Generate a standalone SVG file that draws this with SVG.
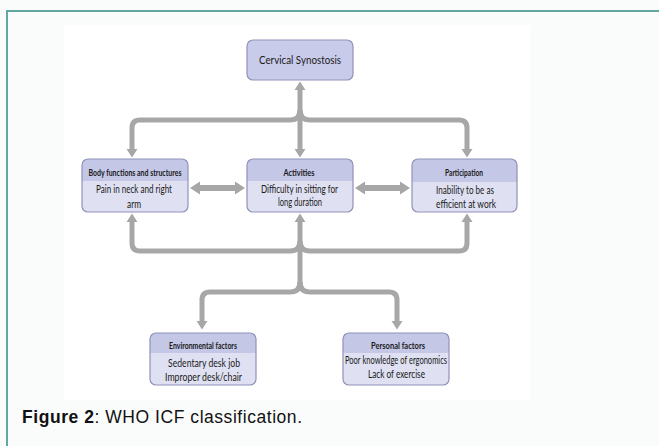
<svg xmlns="http://www.w3.org/2000/svg" width="659" height="446" viewBox="0 0 659 446">
<defs>
<style>
.bg{fill:#fafbfb}
.frame{stroke:#62a8a1;stroke-width:2;fill:none}
.conn{stroke:#a7a7a7;stroke-width:5;fill:none}
.conn2{stroke:#a7a7a7;stroke-width:6;fill:none}
.box{fill:#dfe1f2}
.hdr{fill:#c4c7e6}
.outline{fill:none;stroke:#8f92b9;stroke-width:1.2}
.t{font-family:Lato,"Open Sans",sans-serif;font-size:11.5px;fill:#1a1a1a;text-anchor:middle}
.h{font-family:Lato,"Open Sans",sans-serif;font-size:9px;font-weight:bold;fill:#1a1a1a;text-anchor:middle}
.cap{font-family:"Liberation Sans",Arial,sans-serif;font-size:17.5px;fill:#111}
</style>
<marker id="ah" markerUnits="userSpaceOnUse" markerWidth="10" markerHeight="12" viewBox="0 -6 10 12" refX="0" refY="0" orient="auto-start-reverse">
<path d="M0,-5.5 L8.5,0 L0,5.5 Z" fill="#a7a7a7"/>
</marker>
<marker id="ah2" markerUnits="userSpaceOnUse" markerWidth="12" markerHeight="14" viewBox="0 -7 12 14" refX="0" refY="0" orient="auto-start-reverse">
<path d="M0,-6.5 L10,0 L0,6.5 Z" fill="#a7a7a7"/>
</marker>
</defs>
<rect class="bg" x="0" y="0" width="659" height="446"/>
<rect x="64" y="25" width="466" height="375" fill="#ffffff"/>
<path class="frame" d="M7,446 V11 H659"/>

<g id="connectors">
<path class="conn" d="M300,90 V149" marker-start="url(#ah)" marker-end="url(#ah)"/>
<path class="conn" d="M300,110 Q300,120 290,120 H140 Q132,120 132,128 V149" marker-end="url(#ah)"/>
<path class="conn" d="M300,110 Q300,120 310,120 H459 Q467,120 467,128 V149" marker-end="url(#ah)"/>
<path class="conn2" d="M200,188 H235" marker-start="url(#ah2)" marker-end="url(#ah2)"/>
<path class="conn2" d="M365,188 H400" marker-start="url(#ah2)" marker-end="url(#ah2)"/>
<path class="conn" d="M300,285 V222" marker-end="url(#ah)"/>
<path class="conn" d="M300,241 Q300,251 290,251 H140 Q132,251 132,243 V222" marker-end="url(#ah)"/>
<path class="conn" d="M300,241 Q300,251 310,251 H459 Q467,251 467,243 V222" marker-end="url(#ah)"/>
<path class="conn" d="M300,282 Q300,292 290,292 H210 Q202,292 202,300 V321" marker-end="url(#ah)"/>
<path class="conn" d="M300,282 Q300,292 310,292 H389 Q397,292 397,300 V321" marker-end="url(#ah)"/>
</g>

<g id="cervical">
<rect x="247" y="40" width="106" height="40" rx="6" fill="#c9cbea" stroke="#8f92b9" stroke-width="1.2"/>
<text class="t" x="300" y="64" font-size="12.5" textLength="82" lengthAdjust="spacingAndGlyphs">Cervical Synostosis</text>
</g>

<g id="body">
<rect class="box" x="82" y="159" width="106" height="53" rx="6"/>
<path class="hdr" d="M82,181 V165 Q82,159 88,159 H182 Q188,159 188,165 V181 Z"/>
<rect class="outline" x="82" y="159" width="106" height="53" rx="6"/>
<text class="h" x="135" y="176" textLength="93" lengthAdjust="spacingAndGlyphs">Body functions and structures</text>
<text class="t" x="134" y="192.5" textLength="76" lengthAdjust="spacingAndGlyphs">Pain in neck and right</text>
<text class="t" x="134" y="207.5" textLength="14" lengthAdjust="spacingAndGlyphs">arm</text>
</g>

<g id="activities">
<rect class="box" x="247" y="159" width="106" height="53" rx="6"/>
<path class="hdr" d="M247,181 V165 Q247,159 253,159 H347 Q353,159 353,165 V181 Z"/>
<rect class="outline" x="247" y="159" width="106" height="53" rx="6"/>
<text class="h" x="299" y="176" textLength="31" lengthAdjust="spacingAndGlyphs">Activities</text>
<text class="t" x="299.5" y="192.5" textLength="77" lengthAdjust="spacingAndGlyphs">Difficulty in sitting for</text>
<text class="t" x="300" y="206" textLength="44" lengthAdjust="spacingAndGlyphs">long duration</text>
</g>

<g id="participation">
<rect class="box" x="412" y="159" width="105" height="53" rx="6"/>
<path class="hdr" d="M412,182 V165 Q412,159 418,159 H511 Q517,159 517,165 V182 Z"/>
<rect class="outline" x="412" y="159" width="105" height="53" rx="6"/>
<text class="h" x="464" y="176" textLength="38" lengthAdjust="spacingAndGlyphs">Participation</text>
<text class="t" x="465" y="193.5" textLength="58" lengthAdjust="spacingAndGlyphs">Inability to be as</text>
<text class="t" x="466" y="208" textLength="60" lengthAdjust="spacingAndGlyphs">efficient at work</text>
</g>

<g id="environmental">
<rect class="box" x="150" y="333" width="106" height="52" rx="6"/>
<path class="hdr" d="M150,353 V339 Q150,333 156,333 H250 Q256,333 256,339 V353 Z"/>
<rect class="outline" x="150" y="333" width="106" height="52" rx="6"/>
<text class="h" x="203" y="348.5" textLength="68" lengthAdjust="spacingAndGlyphs">Environmental factors</text>
<text class="t" x="204" y="366.5" textLength="72" lengthAdjust="spacingAndGlyphs">Sedentary desk job</text>
<text class="t" x="203.5" y="381" textLength="77" lengthAdjust="spacingAndGlyphs">Improper desk/chair</text>
</g>

<g id="personal">
<rect class="box" x="343" y="333" width="106" height="52" rx="6"/>
<path class="hdr" d="M343,353 V339 Q343,333 349,333 H443 Q449,333 449,339 V353 Z"/>
<rect class="outline" x="343" y="333" width="106" height="52" rx="6"/>
<text class="h" x="398" y="348.5" textLength="54" lengthAdjust="spacingAndGlyphs">Personal factors</text>
<text class="t" x="396" y="363.5" textLength="102" lengthAdjust="spacingAndGlyphs">Poor knowledge of ergonomics</text>
<text class="t" x="396.5" y="377.5" textLength="57" lengthAdjust="spacingAndGlyphs">Lack of exercise</text>
</g>

<text class="cap" x="22" y="423" textLength="280"><tspan font-weight="bold">Figure 2</tspan>: WHO ICF classification.</text>
</svg>
